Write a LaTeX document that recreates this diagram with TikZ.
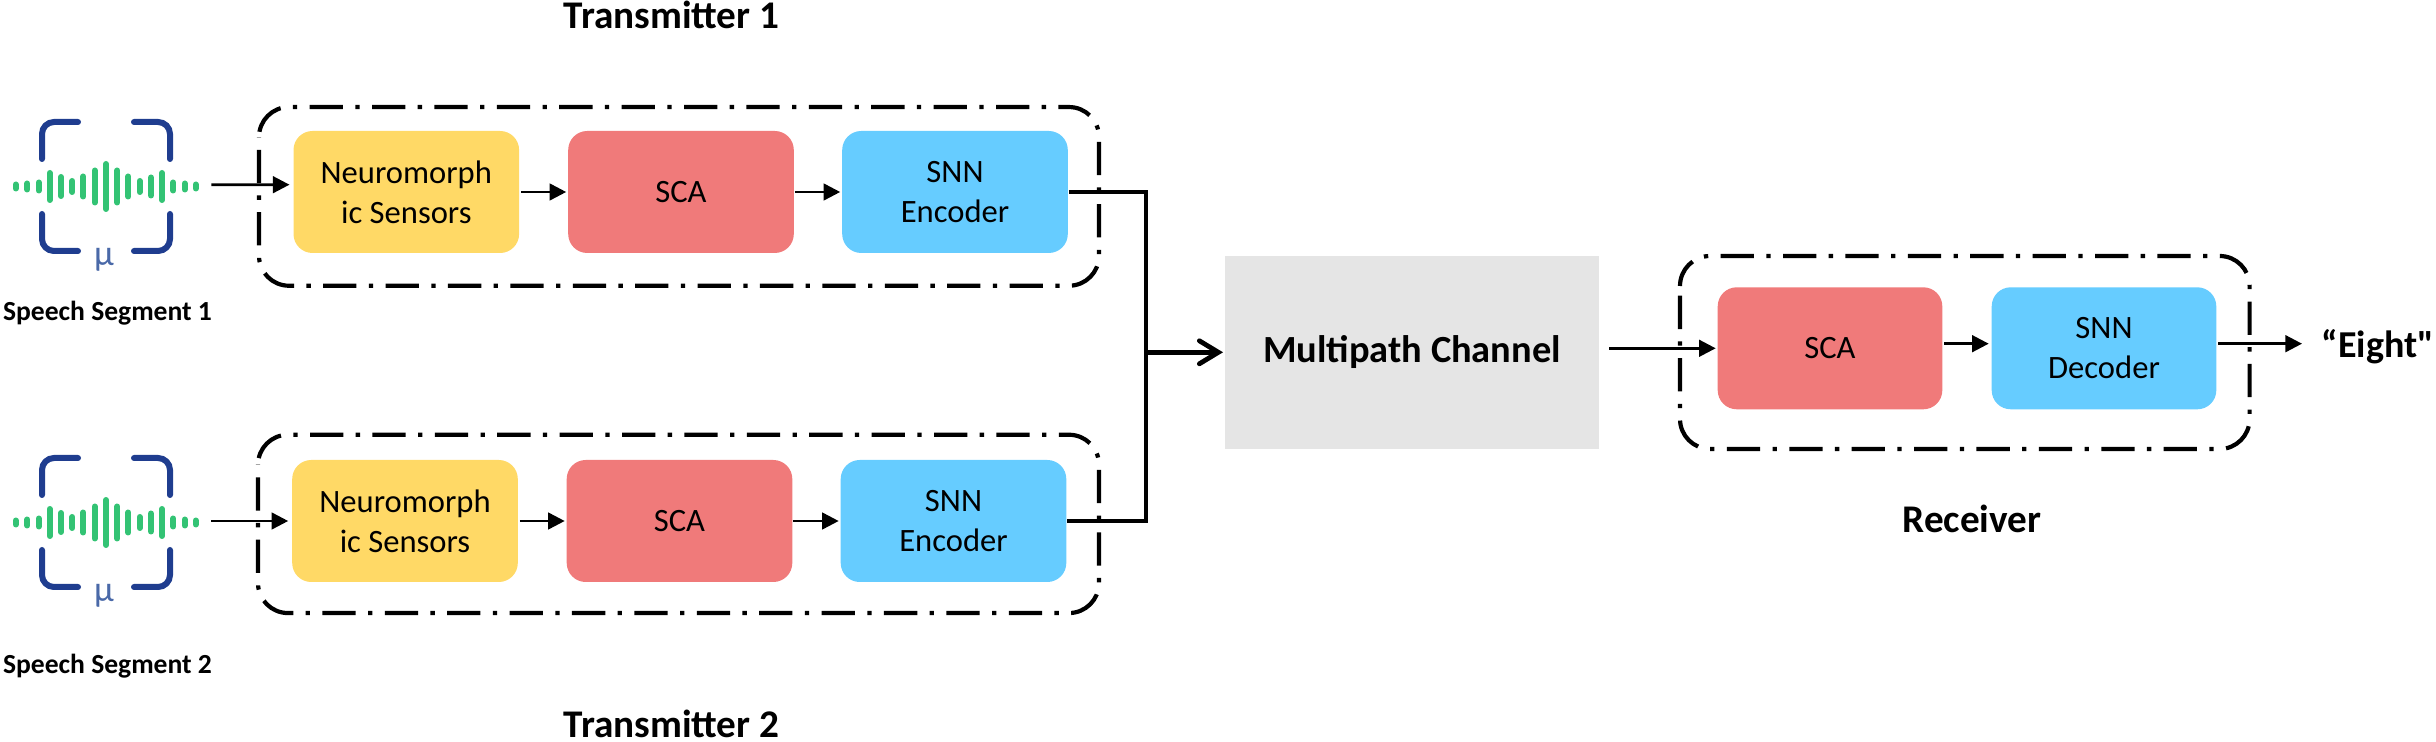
\documentclass[tikz,border=0pt]{standalone}
\usepackage{fontspec}
\setmainfont{Carlito}
\newfontfamily\plainfont{Carlito}
\usetikzlibrary{arrows.meta}
\definecolor{cyellow}{HTML}{FFD966}
\definecolor{cred}{HTML}{F07A7A}
\definecolor{cblue}{HTML}{66CCFF}
\definecolor{cgrey}{HTML}{E5E5E5}
\definecolor{iconblue}{HTML}{1F3D8F}
\definecolor{icongreen}{HTML}{33C374}
\definecolor{mucol}{HTML}{4A69A8}
\tikzset{
  x=0.5pt,y=-0.5pt,
  boxbase/.style={rounded corners=9.5pt,inner sep=0pt,outer sep=0pt,minimum height=61pt,text=black,align=center,font=\fontsize{16.3}{20}\selectfont},
  txbox/.style={boxbase,minimum width=112.8pt},
  rxbox/.style={boxbase,minimum width=112.3pt},
  groupframe/.style={inner sep=0pt,outer sep=0pt},
  grpline/.style={draw=black,line width=2.1pt,dash pattern=on 16.65pt off 6.2pt on 2.15pt off 6.2pt},
  conn/.style={draw=black,line width=1.35pt,-{Triangle[length=8.3pt,width=8.3pt]}},
  bus/.style={draw=black,line width=2.1pt},
  busarrow/.style={draw=black,line width=2.4pt,-{Straight Barb[length=9.5pt,width=11.5pt,line cap=round]}},
  title/.style={inner sep=0pt,outer sep=0pt,anchor=base,font=\bfseries\fontsize{19.6}{24}\selectfont},
  seglabel/.style={inner sep=0pt,outer sep=0pt,anchor=base,font=\bfseries\fontsize{13.8}{16}\selectfont},
  bracket/.style={draw=iconblue,line width=3pt,line cap=round,rounded corners=6pt},
  wavebar/.style={draw=icongreen,line width=3pt,line cap=round},
  iconframe/.style={inner sep=0pt,outer sep=0pt,minimum width=92pt,minimum height=70pt},
  mulabel/.style={inner sep=0pt,outer sep=0pt,anchor=base,text=mucol,font=\fontsize{18}{20}\selectfont},
}
\newcommand{\speechicon}{%
  \draw[bracket] (78,122) -- (42,122) -- (42,159);
  \draw[bracket] (134,122) -- (170,122) -- (170,159);
  \draw[bracket] (78,251) -- (42,251) -- (42,214);
  \draw[bracket] (134,251) -- (170,251) -- (170,214);
  \foreach \xx/\hh in {15.7/2,27.3/3,38.7/4,49.7/13.5,61/9.5,72.3/5.5,83.3/10,94.7/16,106/22.5,117.3/16,128.3/10,139.7/5.5,151/9,162/13.5,173.3/4,184.7/3,195.7/2}
    \draw[wavebar] (\xx,186.5-\hh) -- (\xx,186.5+\hh);
}
\newcommand{\groupoutline}[2]{%
  \draw[grpline,dash phase=#2] ([yshift=-15pt]#1.north west)
    arc[start angle=180,end angle=90,radius=15pt] -- ([xshift=-15pt]#1.north east)
    arc[start angle=90,end angle=0,radius=15pt] -- ([yshift=15pt]#1.south east)
    arc[start angle=0,end angle=-90,radius=15pt] -- ([xshift=15pt]#1.south west)
    arc[start angle=-90,end angle=-180,radius=15pt] -- cycle;
}
\begin{document}
\begin{tikzpicture}
\useasboundingbox (0,0) rectangle (2436,742);

% group frames
\node[groupframe,minimum width=420pt,minimum height=89.35pt] (tx1) at (679,196.4) {};
\node[groupframe,minimum width=420.5pt,minimum height=89.15pt] (tx2) at (678.5,523.9) {};
\node[groupframe,minimum width=284.8pt,minimum height=96.5pt] (rx) at (1964.8,352.5) {};
\groupoutline{tx1}{28.55pt}
\groupoutline{tx2}{27.85pt}
\groupoutline{rx}{2.35pt}

% icons
\node[iconframe] (icon1) at (106,186.5) {};
\node[iconframe] (icon2) at (106,522.5) {};
\speechicon
\begin{scope}[shift={(0,336)}]
\speechicon
\end{scope}
\node[mulabel] (mu1) at (104,266) {μ};
\node[mulabel] (mu2) at (104,602) {μ};
\node[seglabel] (seg1) at (107.5,321) {Speech Segment 1};
\node[seglabel] (seg2) at (107.5,674) {Speech Segment 2};

% boxes
\node[txbox,fill=cyellow] (neuro1) at (406.3,192) {Neuromorph\\ic Sensors};
\node[txbox,fill=cred] (sca1) at (681,192) {SCA};
\node[txbox,fill=cblue] (enc1) at (955,192) {SNN\\Encoder};
\node[txbox,fill=cyellow] (neuro2) at (405,521) {Neuromorph\\ic Sensors};
\node[txbox,fill=cred] (sca2) at (679.5,521) {SCA};
\node[txbox,fill=cblue] (enc2) at (953.5,521) {SNN\\Encoder};
\node[inner sep=0pt,outer sep=0pt,minimum width=187pt,minimum height=96.6pt,fill=cgrey,font=\bfseries\fontsize{19.2}{23}\selectfont] (channel) at (1412,352.3) {\raisebox{-1.5pt}{Multipath Channel}};
\node[rxbox,fill=cred] (rsca) at (1830,348.3) {SCA};
\node[rxbox,fill=cblue] (rdec) at (2104,348.3) {SNN\\Decoder};

% titles
\node[title] (t1) at (671.5,29) {Transmitter 1};
\node[title] (t2) at (671.5,737) {Transmitter 2};
\node[title] (t3) at (1972,533) {Receiver};
\node[inner sep=0pt,outer sep=0pt,anchor=base,font=\plainfont\bfseries\fontsize{19}{23}\selectfont] (eight) at (2378,358) {“Eight"};

% connectors
\coordinate (in1) at (211.4,184.7);
\coordinate (in2) at (211.4,521);
\coordinate (merge) at (1146,352.3);
\coordinate (outend) at (2302,343.7);
\draw[conn] (in1) -- ([xshift=-2pt,yshift=3.65pt]neuro1.west);
\draw[conn] (in2) -- ([xshift=-2pt]neuro2.west);
\draw[conn] ([xshift=1pt]neuro1.east) -- ([xshift=-1pt]sca1.west);
\draw[conn] ([xshift=.5pt]sca1.east) -- ([xshift=-1pt]enc1.west);
\draw[conn] ([xshift=1pt]neuro2.east) -- ([xshift=-1pt]sca2.west);
\draw[conn] ([xshift=.5pt]sca2.east) -- ([xshift=-1pt]enc2.west);
\draw[bus] ([xshift=.5pt]enc1.east) -| (merge);
\draw[bus] ([xshift=.5pt]enc2.east) -| (merge);
\draw[busarrow] (merge) -- ([xshift=-1pt]channel.west);
\draw[conn] ([xshift=5pt]channel.east |- rsca.west) -- ([xshift=-1pt]rsca.west);
\draw[conn] ([xshift=1pt,yshift=2.3pt]rsca.east) -- ([xshift=-1.5pt,yshift=2.3pt]rdec.west);
\draw[conn] ([xshift=1pt,yshift=2.3pt]rdec.east) -- (outend);
\end{tikzpicture}
\end{document}
